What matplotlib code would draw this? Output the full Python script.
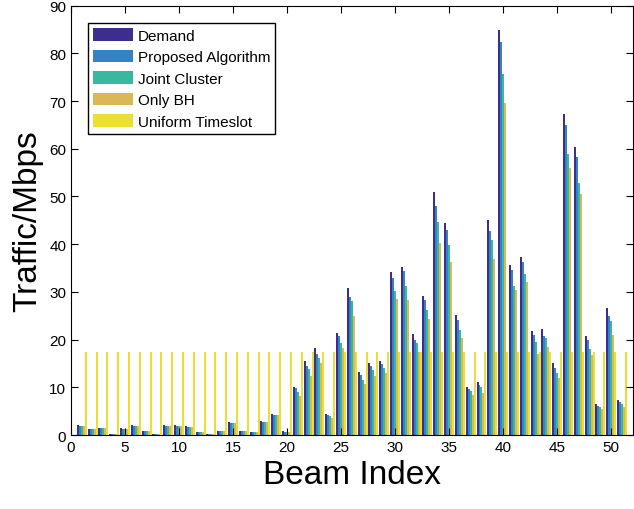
import numpy as np
import matplotlib
matplotlib.use('Agg')
import matplotlib.pyplot as plt

plt.rcParams['font.family'] = ['Liberation Sans', 'DejaVu Sans']

# traffic per beam (Mbps)
beams = np.arange(1, 52)
demand = [2.1, 1.3, 1.5, 0.2, 1.5, 2.1, 0.85, 0.2, 2.1, 2.1,
          1.9, 0.63, 0.2, 0.84, 2.7, 0.84, 0.63, 2.9, 4.4, 0.84,
          10.1, 15.6, 18.3, 4.4, 21.4, 30.9, 13.2, 15.1, 15.6, 34.1,
          35.3, 21.2, 29.2, 50.9, 44.4, 25.2, 10.1, 11.1, 45.0, 84.9,
          35.7, 37.4, 21.9, 22.3, 15.1, 67.3, 60.3, 20.8, 6.5, 26.7, 7.4]
proposed = [1.9, 1.3, 1.5, 0.2, 1.3, 1.9, 0.85, 0.2, 1.9, 1.9,
            1.7, 0.63, 0.2, 0.84, 2.5, 0.84, 0.63, 2.7, 4.2, 0.6,
            9.9, 14.5, 17.0, 4.2, 20.8, 29.0, 12.6, 14.5, 14.9, 33.0,
            34.3, 20.0, 28.2, 48.1, 42.9, 24.2, 9.7, 10.5, 42.7, 82.4,
            34.5, 36.2, 21.0, 20.8, 14.1, 65.0, 58.2, 20.0, 6.1, 25.0, 6.9]
joint = [1.9, 1.3, 1.5, 0.2, 1.3, 1.9, 0.85, 0.2, 1.9, 1.9,
         1.7, 0.63, 0.2, 0.84, 2.5, 0.84, 0.63, 2.7, 4.2, 0.6,
         9.0, 13.9, 16.2, 4.0, 19.3, 28.0, 11.6, 13.7, 14.1, 30.1,
         31.3, 19.3, 26.3, 44.6, 39.9, 22.1, 9.3, 10.1, 40.8, 75.7,
         31.3, 33.8, 19.6, 20.4, 13.0, 58.9, 52.8, 18.1, 5.9, 24.0, 6.5]
only_bh = [1.9, 1.3, 1.5, 0.2, 1.3, 1.9, 0.85, 0.2, 1.9, 1.9,
           1.7, 0.63, 0.2, 0.84, 2.5, 0.84, 0.63, 2.7, 4.2, 0.6,
           8.2, 12.4, 15.1, 3.6, 18.3, 25.0, 10.7, 12.4, 13.0, 28.6,
           28.2, 17.4, 24.4, 40.2, 36.2, 20.4, 8.4, 8.8, 37.0, 69.6,
           30.5, 32.0, 17.0, 18.5, 12.0, 55.9, 50.5, 16.8, 5.5, 21.0, 5.9]
uniform = [17.45] * 51

series = [demand, proposed, joint, only_bh, uniform]
labels = ['Demand', 'Proposed Algorithm', 'Joint Cluster', 'Only BH', 'Uniform Timeslot']
colors = ['#3c2e8e', '#3583c4', '#38b99f', '#d8b955', '#ebdf33']

fig = plt.figure(figsize=(6.34, 5.10), dpi=100)
ax = fig.add_axes([0.112, 0.145, 0.886, 0.842])

w = 0.185
for k, (vals, lab, c) in enumerate(zip(series, labels, colors)):
    ax.bar(beams + (k - 2) * w, vals, width=w, color=c, label=lab,
           linewidth=0, antialiased=False)

ax.set_xlim(0, 52)
ax.set_ylim(0, 90)
ax.set_xticks(range(0, 51, 5))
ax.set_yticks(range(0, 91, 10))
ax.tick_params(direction='in', top=True, right=True, labelsize=11, length=5)
ax.set_xlabel('Beam Index', fontsize=24)
ax.set_ylabel('Traffic/Mbps', fontsize=24)

ax.legend(loc='upper left', bbox_to_anchor=(0.03, 0.96), fontsize=11,
          frameon=True, fancybox=False, edgecolor='black', framealpha=1,
          handlelength=2.6, handleheight=0.9, labelspacing=0.45,
          handletextpad=0.3, borderaxespad=0, borderpad=0.35)

fig.savefig('out.png', dpi=100)
